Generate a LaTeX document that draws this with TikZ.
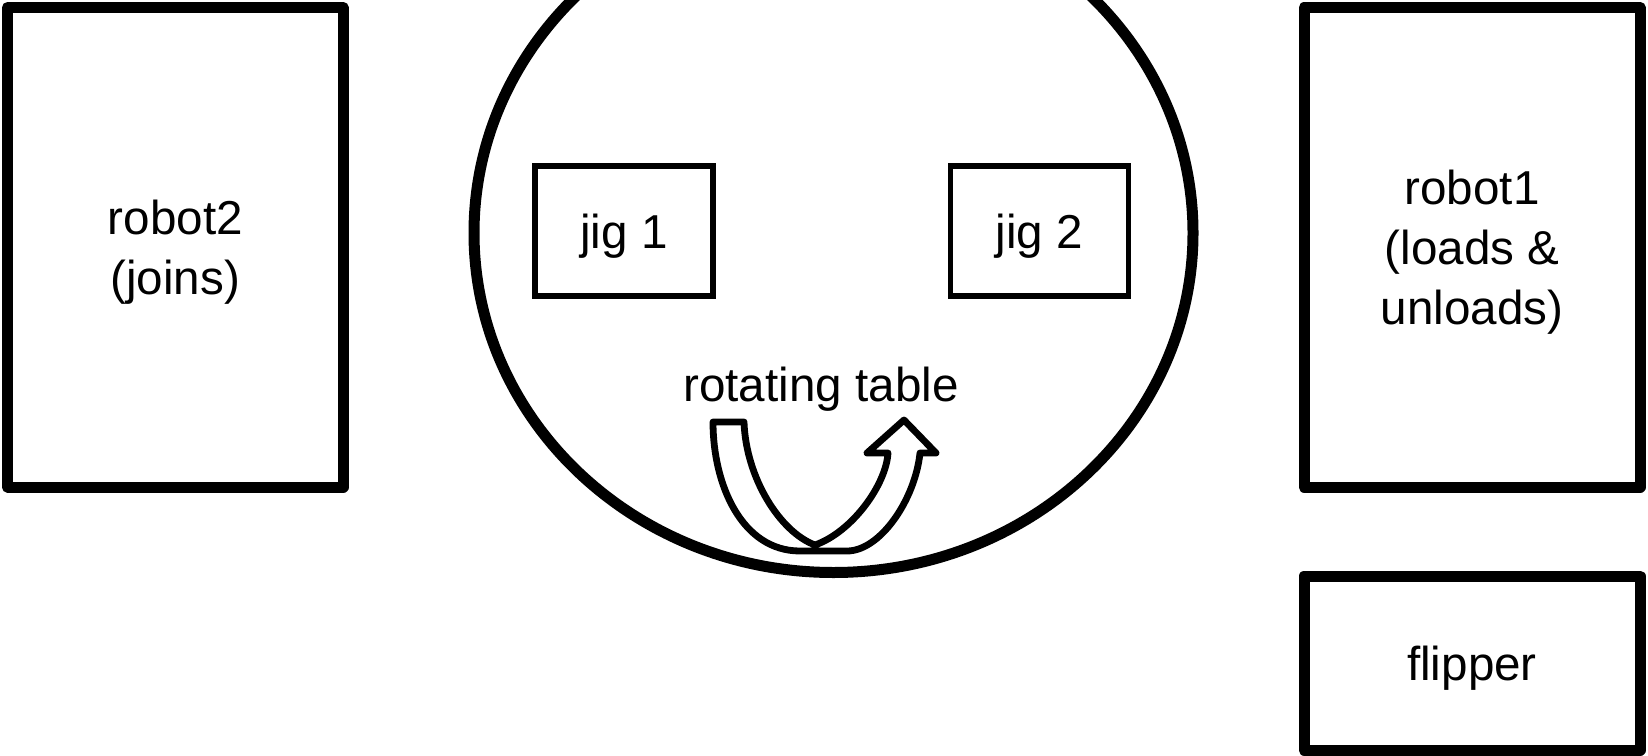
\documentclass[tikz,border=0pt]{standalone}
\usepackage{fontspec}
\setmainfont{Liberation Sans}
\newcommand\lblfont{\fontsize{23.8}{30}\selectfont}
\begin{document}
\begin{tikzpicture}[x=0.5pt,y=-0.5pt,
  unit/.style={draw, line width=5.5pt, line join=round, rectangle,
    align=center, font=\lblfont, inner sep=0pt, text depth=-4.5pt},
  jig/.style={draw, line width=2.6pt, rectangle, align=center,
    font=\lblfont, inner sep=0pt, text depth=-4.5pt,
    minimum width=89pt, minimum height=65pt},
  tablerim/.style={line width=5.5pt},
  uturn/.style={draw, fill=white, line width=3.4pt, line join=round}]
\clip (0,0) rectangle (1648,755);
% workstations around the table
\node[unit, minimum width=167.75pt, minimum height=239.75pt] (robot2) at (175.25,247.25) {robot2\\(joins)};
\node[unit, minimum width=168pt, minimum height=239.75pt] (robot1) at (1472,247.25) {robot1\\(loads \&\\unloads)};
\node[unit, minimum width=168pt, minimum height=87pt, text depth=-1.3pt] (flipper) at (1472,663) {flipper};
% rotating table with its two jigs
\coordinate (tablec) at (833.5,233);
\draw[tablerim] (tablec) ellipse [x radius=359.5, y radius=339.5];
\node[jig] (jig1) at (624,231) {jig 1};
\node[jig] (jig2) at (1039.5,231) {jig 2};
\node[font=\lblfont] (rotlabel) at (821,389) {rotating table};
% U-turn arrow showing the rotation
\draw[uturn] (744,422) -- (713,422)
  .. controls (713,485) and (742,551) .. (800,551) -- (847,551)
  .. controls (880,551) and (915,500) .. (920,453)
  -- (936,453) -- (904,420) -- (867,453) -- (888,453)
  .. controls (886,485) and (852,532) .. (815,545)
  .. controls (780,532) and (746,478) .. (744,422) -- cycle;
\end{tikzpicture}
\end{document}
